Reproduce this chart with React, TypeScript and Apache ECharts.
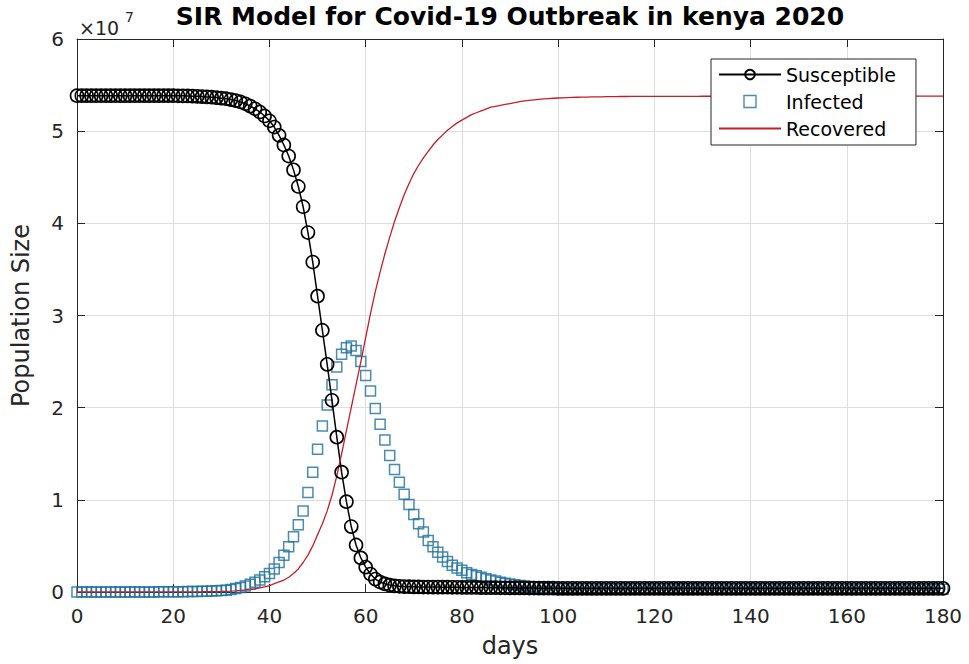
import React, { useEffect, useRef } from "react";
import * as echarts from "echarts";

// sampling grid: one point per day, 0..180
const days: number[] = Array.from({ length: 181 }, (_, i) => i);

const SCALE = 1e7;
const xTicks = { min: 0, max: 180, interval: 20 };
const yTicks = { min: 0, max: 6, interval: 1 };

// values, in units of 1e7 people
const susceptible: number[] = [
  5.385, 5.385, 5.385, 5.385, 5.385, 5.385, 5.385, 5.385, 5.385, 5.385,
  5.385, 5.385, 5.385, 5.385, 5.385, 5.385, 5.385, 5.385, 5.385, 5.385,
  5.385, 5.384, 5.383, 5.382, 5.38, 5.378, 5.375, 5.372, 5.368, 5.364,
  5.358, 5.352, 5.343, 5.332, 5.317, 5.297, 5.272, 5.243, 5.208, 5.165,
  5.113, 5.045, 4.955, 4.85, 4.73, 4.58, 4.4, 4.18, 3.9, 3.58,
  3.21, 2.84, 2.47, 2.08, 1.68, 1.3, 0.98, 0.71, 0.51, 0.37,
  0.27, 0.195, 0.14, 0.108, 0.088, 0.075, 0.067, 0.062, 0.059, 0.057,
  0.056, 0.055, 0.054, 0.054, 0.053, 0.053, 0.052, 0.052, 0.051, 0.051,
  0.05, 0.05, 0.049, 0.049, 0.048, 0.048, 0.047, 0.047, 0.046, 0.046,
  0.045, 0.045, 0.044, 0.044, 0.043, 0.043, 0.042, 0.042, 0.041, 0.041,
  0.04, 0.04, 0.04, 0.04, 0.04, 0.04, 0.04, 0.04, 0.04, 0.04,
  0.04, 0.04, 0.04, 0.04, 0.04, 0.04, 0.04, 0.04, 0.04, 0.04,
  0.04, 0.04, 0.04, 0.04, 0.04, 0.04, 0.04, 0.04, 0.04, 0.04,
  0.04, 0.04, 0.04, 0.04, 0.04, 0.04, 0.04, 0.04, 0.04, 0.04,
  0.04, 0.04, 0.04, 0.04, 0.04, 0.04, 0.04, 0.04, 0.04, 0.04,
  0.04, 0.04, 0.04, 0.04, 0.04, 0.04, 0.04, 0.04, 0.04, 0.04,
  0.04, 0.04, 0.04, 0.04, 0.04, 0.04, 0.04, 0.04, 0.04, 0.04,
  0.04, 0.04, 0.04, 0.04, 0.04, 0.04, 0.04, 0.04, 0.04, 0.04,
  0.04,
];

const infected: number[] = [
  0.0001, 0.0001, 0.0001, 0.0001, 0.0002, 0.0002, 0.0002, 0.0003, 0.0003, 0.0004,
  0.0004, 0.0005, 0.0006, 0.0007, 0.0008, 0.001, 0.0012, 0.0014, 0.0017, 0.002,
  0.0024, 0.0029, 0.0035, 0.0042, 0.005, 0.006, 0.0072, 0.0087, 0.0105, 0.0126,
  0.015, 0.02, 0.028, 0.037, 0.05, 0.065, 0.085, 0.105, 0.13, 0.165,
  0.2, 0.25, 0.32, 0.4, 0.49, 0.6, 0.73, 0.88, 1.08, 1.3,
  1.55, 1.8, 2.03, 2.25, 2.44, 2.58, 2.65, 2.67, 2.62, 2.5,
  2.35, 2.18, 1.99, 1.82, 1.65, 1.48, 1.33, 1.19, 1.06, 0.95,
  0.84, 0.74, 0.65, 0.56, 0.49, 0.43, 0.38, 0.33, 0.29, 0.26,
  0.235, 0.21, 0.19, 0.175, 0.16, 0.145, 0.13, 0.118, 0.105, 0.095,
  0.086, 0.078, 0.071, 0.065, 0.06, 0.055, 0.05, 0.046, 0.042, 0.039,
  0.037, 0.036, 0.035, 0.035, 0.034, 0.034, 0.034, 0.034, 0.033, 0.033,
  0.033, 0.033, 0.033, 0.033, 0.033, 0.033, 0.033, 0.033, 0.033, 0.033,
  0.033, 0.033, 0.033, 0.033, 0.033, 0.033, 0.033, 0.033, 0.033, 0.033,
  0.032, 0.032, 0.032, 0.032, 0.032, 0.032, 0.032, 0.032, 0.032, 0.032,
  0.032, 0.032, 0.032, 0.032, 0.032, 0.032, 0.032, 0.032, 0.032, 0.032,
  0.032, 0.032, 0.032, 0.032, 0.032, 0.032, 0.032, 0.032, 0.032, 0.032,
  0.031, 0.031, 0.031, 0.031, 0.031, 0.031, 0.031, 0.031, 0.031, 0.031,
  0.031, 0.031, 0.031, 0.031, 0.031, 0.031, 0.031, 0.031, 0.031, 0.031,
  0.031,
];

const recovered: number[] = [
  0.0, 0.0, 0.0, 0.0, 0.0, 0.0001, 0.0001, 0.0001, 0.0001, 0.0001,
  0.0002, 0.0002, 0.0002, 0.0003, 0.0003, 0.0004, 0.0004, 0.0005, 0.0006, 0.0007,
  0.0008, 0.001, 0.0012, 0.0015, 0.0018, 0.0022, 0.0027, 0.0033, 0.0041, 0.005,
  0.0062, 0.0078, 0.01, 0.013, 0.017, 0.022, 0.028, 0.035, 0.045, 0.055,
  0.07, 0.09, 0.11, 0.13, 0.16, 0.2, 0.25, 0.32, 0.4, 0.5,
  0.62, 0.74, 0.88, 1.05, 1.26, 1.5, 1.75, 2.0, 2.25, 2.5,
  2.76, 3.02, 3.26, 3.47, 3.67, 3.85, 4.02, 4.17, 4.31, 4.43,
  4.54, 4.63, 4.71, 4.78, 4.85, 4.91, 4.96, 5.01, 5.05, 5.09,
  5.12, 5.15, 5.18, 5.2, 5.22, 5.24, 5.26, 5.27, 5.28, 5.29,
  5.3, 5.31, 5.32, 5.328, 5.335, 5.34, 5.345, 5.35, 5.354, 5.357,
  5.36, 5.362, 5.364, 5.366, 5.368, 5.369, 5.37, 5.371, 5.372, 5.373,
  5.374, 5.375, 5.375, 5.376, 5.376, 5.377, 5.377, 5.377, 5.378, 5.378,
  5.378, 5.378, 5.378, 5.378, 5.378, 5.378, 5.378, 5.378, 5.378, 5.378,
  5.379, 5.379, 5.379, 5.379, 5.379, 5.379, 5.379, 5.379, 5.379, 5.379,
  5.38, 5.38, 5.38, 5.38, 5.38, 5.38, 5.38, 5.38, 5.38, 5.38,
  5.38, 5.38, 5.38, 5.38, 5.38, 5.38, 5.38, 5.38, 5.38, 5.38,
  5.38, 5.38, 5.38, 5.38, 5.38, 5.38, 5.38, 5.38, 5.38, 5.38,
  5.38, 5.38, 5.38, 5.38, 5.38, 5.38, 5.38, 5.38, 5.38, 5.38,
  5.38,
];

const seriesNames = ["Susceptible", "Infected", "Recovered"];
const titleText = "SIR Model for Covid-19 Outbreak in kenya 2020";
const xName = "days";
const yName = "Population Size";

const FONT = "DejaVu Sans";
const AXIS_COLOR = "#262626";
const GRID_COLOR = "#dedede";
const S_COLOR = "#000000";
const I_COLOR = "#1b6f9c";
const R_COLOR = "#c41e28";

const toPairs = (vals: number[]) => days.map((d, i) => [d, vals[i] * SCALE]);

export default function App() {
  const ref = useRef<HTMLDivElement>(null);

  useEffect(() => {
    if (!ref.current) return;
    const chart = echarts.init(ref.current, undefined, { renderer: "svg" });

    const baseX = {
      type: "value" as const,
      min: xTicks.min,
      max: xTicks.max,
      interval: xTicks.interval,
    };
    const baseY = {
      type: "value" as const,
      min: yTicks.min * SCALE,
      max: yTicks.max * SCALE,
      interval: yTicks.interval * SCALE,
    };

    chart.setOption({
      animation: false,
      backgroundColor: "#ffffff",
      title: {
        text: titleText,
        left: 510,
        textAlign: "center",
        top: 4,
        padding: 0,
        textStyle: {
          fontFamily: FONT,
          fontSize: 25,
          fontWeight: "bold",
          color: "#000",
        },
      },
      grid: {
        left: 77,
        right: 26,
        top: 39,
        bottom: 72,
        containLabel: false,
        outerBoundsMode: "none",
      },
      legend: {
        orient: "vertical",
        left: 711,
        top: 59,
        padding: [6, 20, 7, 7],
        itemGap: 8,
        itemWidth: 62,
        itemHeight: 12,
        borderColor: AXIS_COLOR,
        borderWidth: 1,
        borderRadius: 0,
        backgroundColor: "#ffffff",
        textStyle: { fontFamily: FONT, fontSize: 19, color: "#000" },
        data: [
          { name: seriesNames[0] },
          {
            name: seriesNames[1],
            icon: "path://M0,0H10V10H0Z",
            itemStyle: { color: "transparent", borderColor: I_COLOR, borderWidth: 1.4 },
          },
          {
            name: seriesNames[2],
            itemStyle: { color: "transparent", borderColor: "transparent", borderWidth: 0 },
          },
        ],
      },
      graphic: [
        {
          type: "text",
          left: 79,
          top: 18,
          style: { text: "×10", fontFamily: FONT, fontSize: 19, fill: AXIS_COLOR },
        },
        {
          type: "text",
          left: 125,
          top: 10,
          style: { text: "7", fontFamily: FONT, fontSize: 14, fill: AXIS_COLOR },
        },
      ],
      xAxis: [
        {
          ...baseX,
          position: "bottom",
          name: xName,
          nameLocation: "middle",
          nameGap: 42,
          nameTextStyle: { fontFamily: FONT, fontSize: 24, color: AXIS_COLOR },
          axisLine: { show: true, onZero: false, lineStyle: { color: AXIS_COLOR, width: 1 } },
          axisTick: { show: true, inside: true, length: 8, lineStyle: { color: AXIS_COLOR } },
          axisLabel: {
            show: true,
            margin: 14,
            fontFamily: FONT,
            fontSize: 20,
            color: AXIS_COLOR,
          },
          splitLine: { show: true, lineStyle: { color: GRID_COLOR, width: 1 } },
        },
        {
          ...baseX,
          position: "top",
          axisLine: { show: true, onZero: false, lineStyle: { color: AXIS_COLOR, width: 1 } },
          axisTick: { show: true, inside: true, length: 8, lineStyle: { color: AXIS_COLOR } },
          axisLabel: { show: false },
          splitLine: { show: false },
        },
      ],
      yAxis: [
        {
          ...baseY,
          position: "left",
          name: yName,
          nameLocation: "middle",
          nameGap: 44,
          nameTextStyle: { fontFamily: FONT, fontSize: 24, color: AXIS_COLOR },
          axisLine: { show: true, onZero: false, lineStyle: { color: AXIS_COLOR, width: 1 } },
          axisTick: { show: true, inside: true, length: 8, lineStyle: { color: AXIS_COLOR } },
          axisLabel: {
            show: true,
            margin: 13,
            fontFamily: FONT,
            fontSize: 20,
            color: AXIS_COLOR,
            formatter: (v: number) => String(Math.round(v / SCALE)),
          },
          splitLine: { show: true, lineStyle: { color: GRID_COLOR, width: 1 } },
        },
        {
          ...baseY,
          position: "right",
          axisLine: { show: true, onZero: false, lineStyle: { color: AXIS_COLOR, width: 1 } },
          axisTick: { show: true, inside: true, length: 8, lineStyle: { color: AXIS_COLOR } },
          axisLabel: { show: false },
          splitLine: { show: false },
        },
      ],
      series: [
        {
          name: seriesNames[0],
          type: "line",
          xAxisIndex: 0,
          yAxisIndex: 0,
          data: toPairs(susceptible),
          symbol: "circle",
          symbolSize: 13,
          showSymbol: true,
          showAllSymbol: true,
          lineStyle: { color: S_COLOR, width: 1.5 },
          itemStyle: { color: "transparent", borderColor: S_COLOR, borderWidth: 1.6 },
          emphasis: { disabled: true },
        },
        {
          name: seriesNames[1],
          type: "scatter",
          xAxisIndex: 0,
          yAxisIndex: 0,
          data: toPairs(infected),
          symbol: "rect",
          symbolSize: 10,
          itemStyle: { color: "transparent", borderColor: I_COLOR, borderWidth: 1.5 },
          emphasis: { disabled: true },
        },
        {
          name: seriesNames[2],
          type: "line",
          xAxisIndex: 0,
          yAxisIndex: 0,
          data: toPairs(recovered),
          symbol: "none",
          showSymbol: false,
          lineStyle: { color: R_COLOR, width: 1.3 },
          itemStyle: { color: R_COLOR },
          emphasis: { disabled: true },
        },
      ],
    });

    return () => chart.dispose();
  }, []);

  return (
    <div
      ref={ref}
      style={{ position: "absolute", left: 0, top: 0, width: 969, height: 664, background: "#fff" }}
    />
  );
}
